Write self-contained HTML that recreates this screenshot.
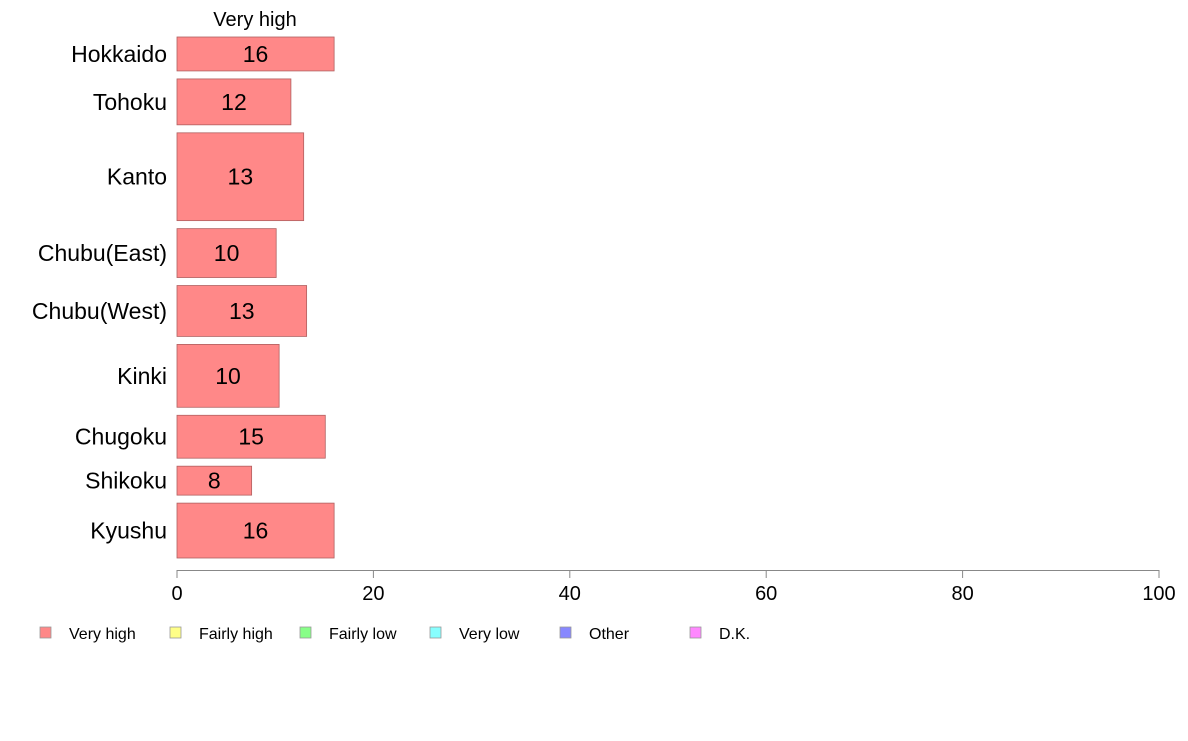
<!DOCTYPE html>
<html><head><meta charset="utf-8"><style>
body{margin:0;background:#fff;font-family:"Liberation Sans",sans-serif}
</style></head><body>
<svg id="c" width="1188" height="736" xmlns="http://www.w3.org/2000/svg" font-family="Liberation Sans, sans-serif"></svg>
<script>
const regions=["Hokkaido","Tohoku","Kanto","Chubu(East)","Chubu(West)","Kinki","Chugoku","Shikoku","Kyushu"];
const values=[16,11.6,12.9,10.1,13.2,10.4,15.1,7.6,16];
const valueLabels=["16","12","13","10","13","10","15","8","16"];
const weights=[34,46,88,49,51,63,43,29,55];
const ticks=[0,20,40,60,80,100];
const legendLabels=["Very high","Fairly high","Fairly low","Very low","Other","D.K."];
const legendColors=["#ff8888","#ffff88","#88ff88","#88ffff","#8888ff","#ff88ff"];
const NS="http://www.w3.org/2000/svg",svg=document.getElementById('c');
function mk(t,a,txt){const e=document.createElementNS(NS,t);for(const k in a)e.setAttribute(k,a[k]);if(txt!==undefined)e.textContent=txt;svg.appendChild(e);return e;}
const x0=177,x1=1159,yTop=37,yBot=558,gap=8;
const xs=v=>x0+(x1-x0)*v/100;
const totW=weights.reduce((a,b)=>a+b,0),avail=yBot-yTop-gap*(weights.length-1);
let t=mk('text',{x:255,y:26,'font-size':20,'text-anchor':'middle'},"Very high");


let y=yTop;
regions.forEach((r,i)=>{
 const h=avail*weights[i]/totW;
 const b=mk('rect',{x:x0,y:y,width:xs(values[i])-x0,height:h,fill:'#ff8888',stroke:'#b06060','stroke-width':0.8});
 
 
 const l=mk('text',{x:(x0+xs(values[i]))/2,y:y+h/2+8,'font-size':23,'text-anchor':'middle'},valueLabels[i]);
 
 
 const c=mk('text',{x:167,y:y+h/2+8,'font-size':23,'text-anchor':'end'},r);
 
 
 y+=h+gap;
});
const ax=mk('line',{x1:x0,x2:x1,y1:570.5,y2:570.5,stroke:'#888','stroke-width':1});


ticks.forEach(v=>{
 const tk=mk('line',{x1:xs(v),x2:xs(v),y1:570,y2:578,stroke:'#888'});
 
 
 const tl=mk('text',{x:xs(v),y:600,'font-size':20,'text-anchor':'middle'},String(v));
 
 
});
legendLabels.forEach((s,i)=>{
 const lx=40+i*130;
 const r=mk('rect',{x:lx,y:627,width:11,height:11,fill:legendColors[i],stroke:'#999','stroke-width':0.8});
 
 
 const tx=mk('text',{x:lx+29,y:639,'font-size':16},s);
 
 
});
</script>
</body></html>
